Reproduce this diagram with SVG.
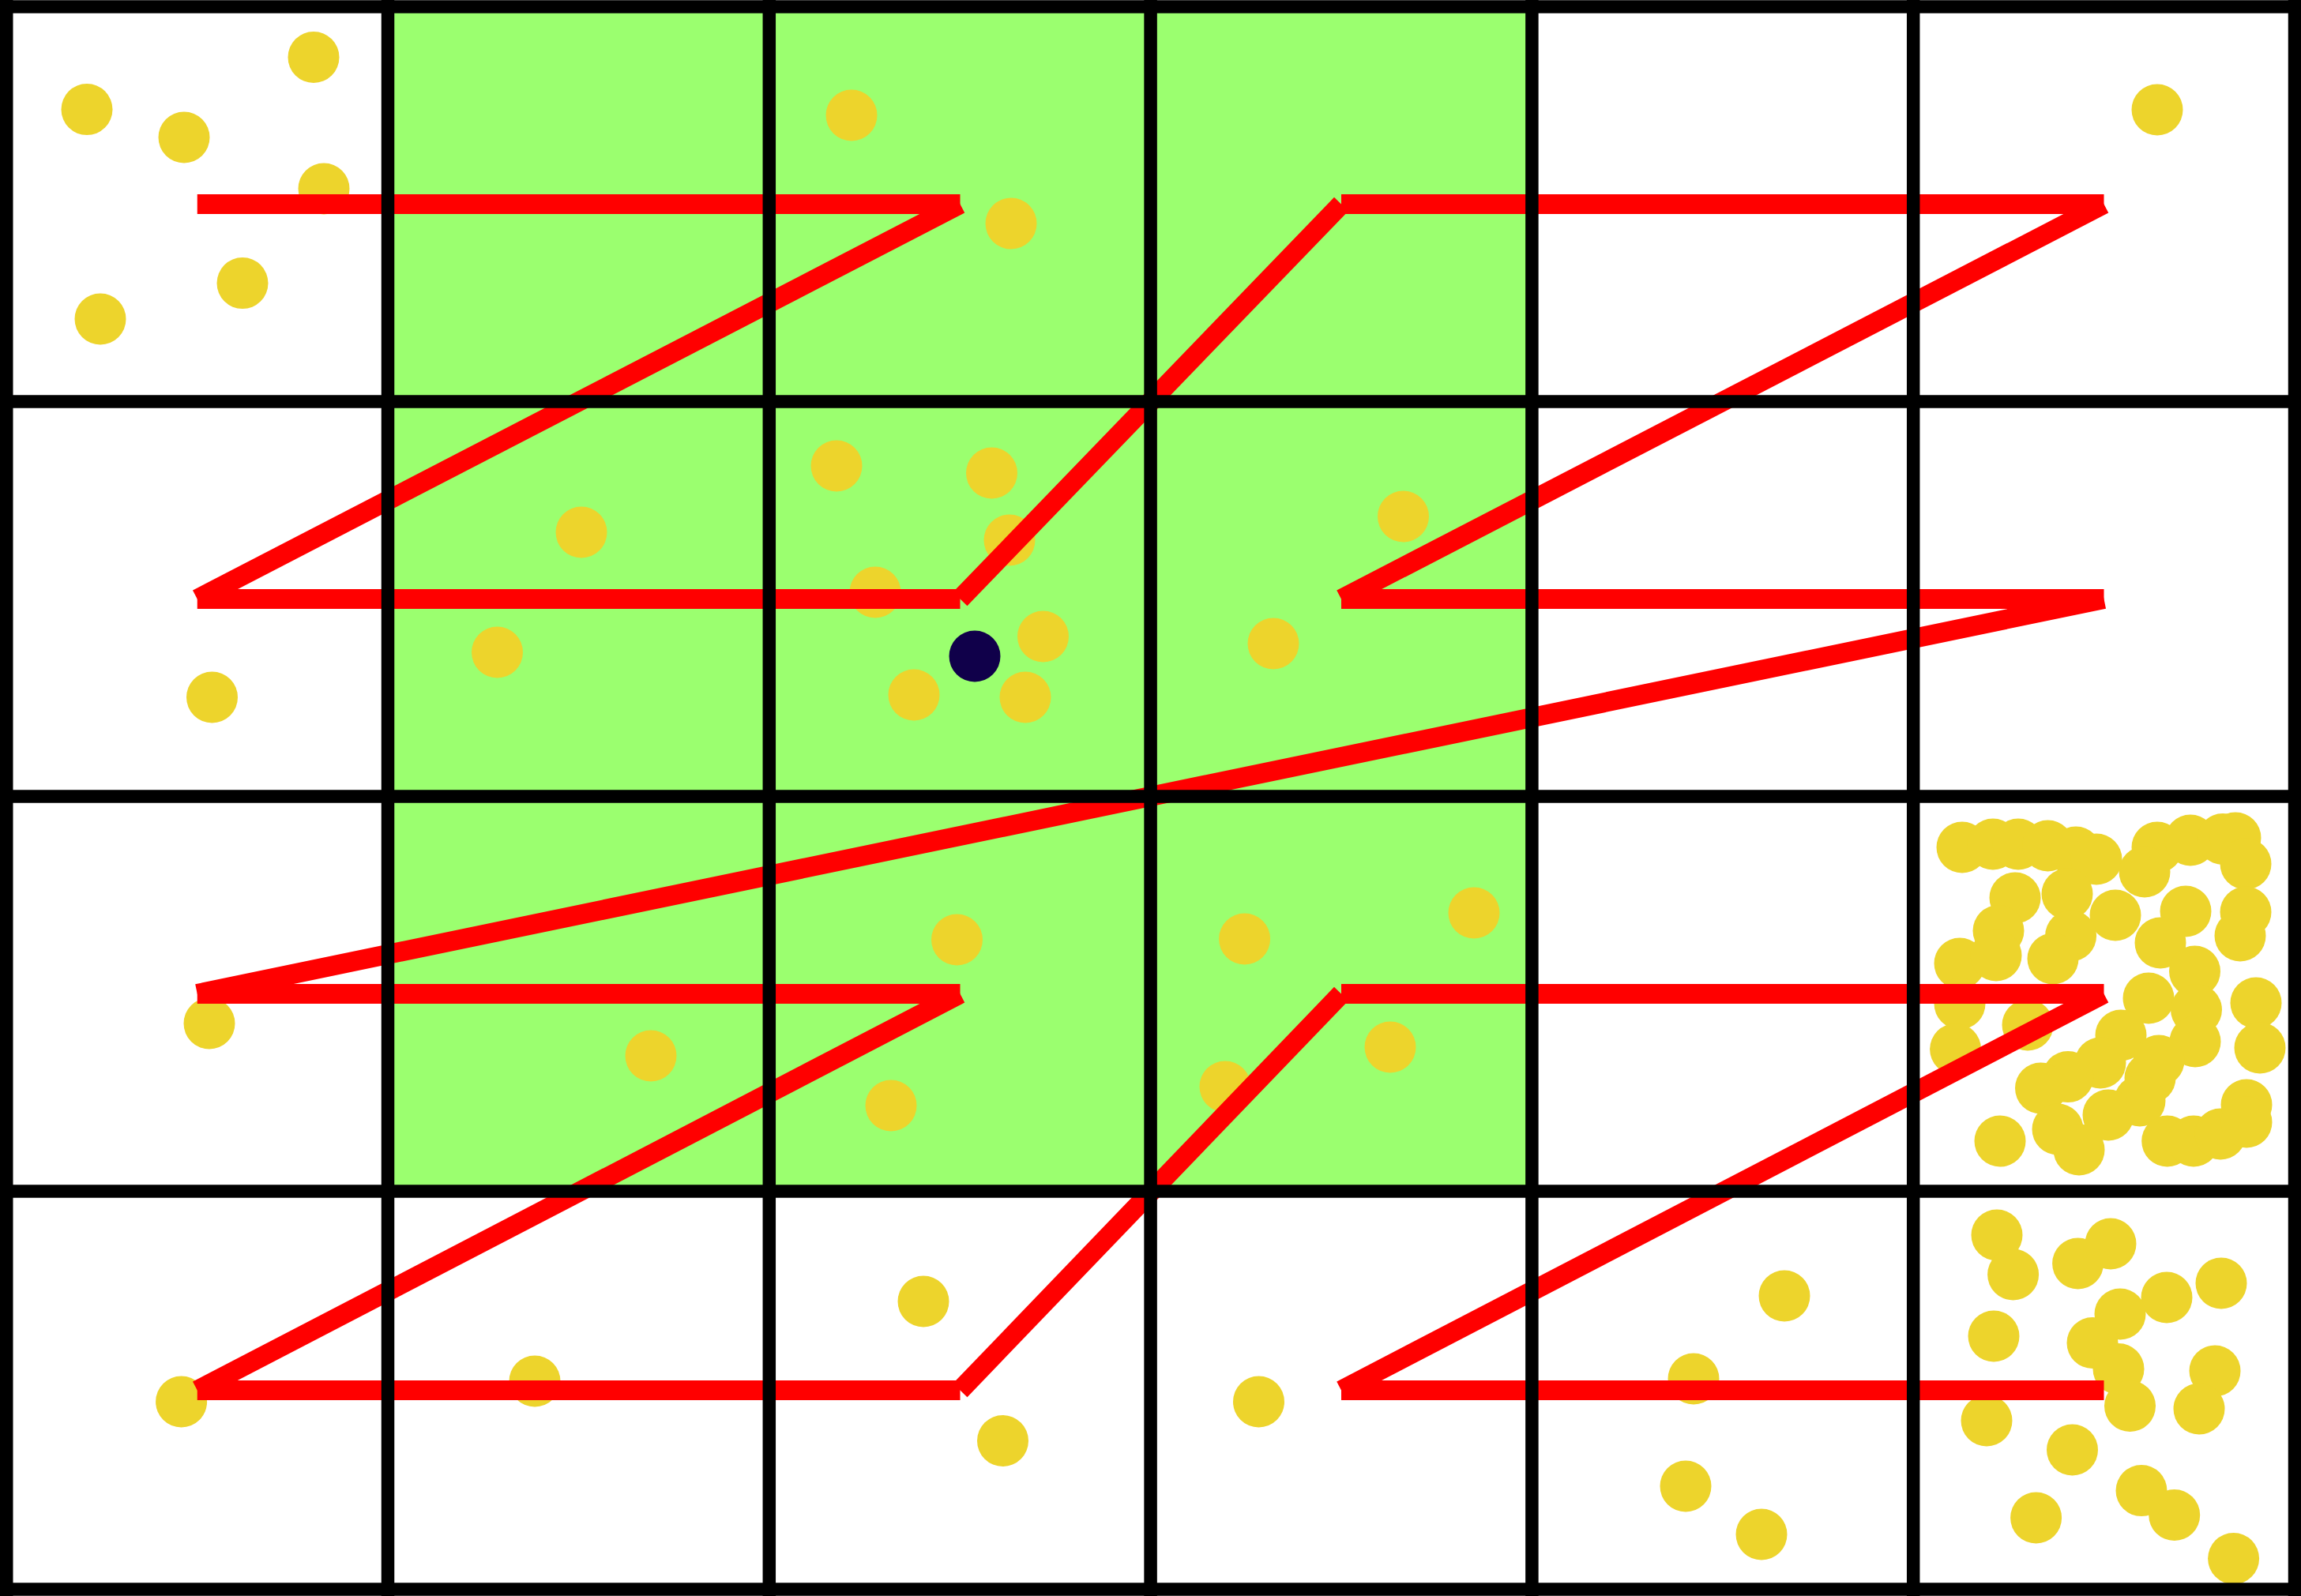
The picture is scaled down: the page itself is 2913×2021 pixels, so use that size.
<svg xmlns="http://www.w3.org/2000/svg" width="2913" height="2021" viewBox="0 0 2913 2021">
<style>
.grid{stroke:#000;stroke-width:16.5;fill:none}
.z{stroke:#ff0000;stroke-width:25;stroke-linecap:butt}
.pt{fill:#edd42c}
.q{fill:#10004a}
</style>
<rect width="2913" height="2021" fill="#fff"/>
<g id="region">
<rect x="491" y="8.5" width="1448.4" height="1500" fill="#9bff6f"/>
</g>
<g id="points">
<circle class="pt" cx="397" cy="72.5" r="32.5"/>
<circle class="pt" cx="110" cy="138.6" r="32.5"/>
<circle class="pt" cx="233" cy="174" r="32.5"/>
<circle class="pt" cx="410" cy="239" r="32.5"/>
<circle class="pt" cx="307" cy="358.6" r="32.5"/>
<circle class="pt" cx="127" cy="404" r="32.5"/>
<circle class="pt" cx="1078" cy="146" r="32.5"/>
<circle class="pt" cx="1280" cy="283" r="32.5"/>
<circle class="pt" cx="2731" cy="139" r="32.5"/>
<circle class="pt" cx="736" cy="674" r="32.5"/>
<circle class="pt" cx="629.5" cy="826" r="32.5"/>
<circle class="pt" cx="268.5" cy="883" r="32.5"/>
<circle class="pt" cx="1059" cy="590" r="32.5"/>
<circle class="pt" cx="1255.5" cy="599" r="32.5"/>
<circle class="pt" cx="1278" cy="684" r="32.5"/>
<circle class="pt" cx="1108" cy="750" r="32.5"/>
<circle class="pt" cx="1320.5" cy="806" r="32.5"/>
<circle class="pt" cx="1157" cy="880" r="32.5"/>
<circle class="pt" cx="1298" cy="883" r="32.5"/>
<circle class="pt" cx="1776.5" cy="654" r="32.5"/>
<circle class="pt" cx="1612" cy="815" r="32.5"/>
<circle class="pt" cx="265" cy="1296" r="32.5"/>
<circle class="pt" cx="824" cy="1337" r="32.5"/>
<circle class="pt" cx="1211.5" cy="1190" r="32.5"/>
<circle class="pt" cx="1128" cy="1400" r="32.5"/>
<circle class="pt" cx="1575.6" cy="1189" r="32.5"/>
<circle class="pt" cx="1866" cy="1156" r="32.5"/>
<circle class="pt" cx="1760" cy="1326" r="32.5"/>
<circle class="pt" cx="1551" cy="1376" r="32.5"/>
<circle class="pt" cx="229.6" cy="1775" r="32.5"/>
<circle class="pt" cx="677" cy="1749" r="32.5"/>
<circle class="pt" cx="1169" cy="1648" r="32.5"/>
<circle class="pt" cx="1269.5" cy="1824.5" r="32.5"/>
<circle class="pt" cx="1593.5" cy="1775" r="32.5"/>
<circle class="pt" cx="2259" cy="1641" r="32.5"/>
<circle class="pt" cx="2144" cy="1746" r="32.5"/>
<circle class="pt" cx="2134" cy="1882" r="32.5"/>
<circle class="pt" cx="2230" cy="1943" r="32.5"/>
<circle class="pt" cx="2528" cy="1564" r="32.5"/>
<circle class="pt" cx="2548.6" cy="1614" r="32.5"/>
<circle class="pt" cx="2630.6" cy="1600" r="32.5"/>
<circle class="pt" cx="2672" cy="1575" r="32.5"/>
<circle class="pt" cx="2743" cy="1643" r="32.5"/>
<circle class="pt" cx="2812" cy="1625" r="32.5"/>
<circle class="pt" cx="2684" cy="1664" r="32.5"/>
<circle class="pt" cx="2524" cy="1692" r="32.5"/>
<circle class="pt" cx="2649" cy="1700.5" r="32.5"/>
<circle class="pt" cx="2682" cy="1733.5" r="32.5"/>
<circle class="pt" cx="2804" cy="1736" r="32.5"/>
<circle class="pt" cx="2696.5" cy="1780.5" r="32.5"/>
<circle class="pt" cx="2784" cy="1784" r="32.5"/>
<circle class="pt" cx="2515" cy="1799" r="32.5"/>
<circle class="pt" cx="2623.5" cy="1836" r="32.5"/>
<circle class="pt" cx="2711" cy="1887.6" r="32.5"/>
<circle class="pt" cx="2752.7" cy="1918.5" r="32.5"/>
<circle class="pt" cx="2577.6" cy="1922" r="32.5"/>
<circle class="pt" cx="2827.6" cy="1973.6" r="32.5"/>
<circle class="pt" cx="2484" cy="1073" r="32.5"/>
<circle class="pt" cx="2523" cy="1069" r="32.5"/>
<circle class="pt" cx="2555" cy="1069" r="32.5"/>
<circle class="pt" cx="2592.5" cy="1071" r="32.5"/>
<circle class="pt" cx="2628" cy="1079" r="32.5"/>
<circle class="pt" cx="2654" cy="1088" r="32.5"/>
<circle class="pt" cx="2731" cy="1073" r="32.5"/>
<circle class="pt" cx="2773" cy="1064" r="32.5"/>
<circle class="pt" cx="2814" cy="1062.5" r="32.5"/>
<circle class="pt" cx="2830" cy="1061" r="32.5"/>
<circle class="pt" cx="2843" cy="1094" r="32.5"/>
<circle class="pt" cx="2715" cy="1104" r="32.5"/>
<circle class="pt" cx="2551" cy="1137" r="32.5"/>
<circle class="pt" cx="2617" cy="1132" r="32.5"/>
<circle class="pt" cx="2678" cy="1159" r="32.5"/>
<circle class="pt" cx="2767" cy="1154" r="32.5"/>
<circle class="pt" cx="2843" cy="1155" r="32.5"/>
<circle class="pt" cx="2836" cy="1185" r="32.5"/>
<circle class="pt" cx="2530" cy="1178.6" r="32.5"/>
<circle class="pt" cx="2621.6" cy="1185" r="32.5"/>
<circle class="pt" cx="2481" cy="1220" r="32.5"/>
<circle class="pt" cx="2527" cy="1210" r="32.5"/>
<circle class="pt" cx="2599" cy="1214" r="32.5"/>
<circle class="pt" cx="2735" cy="1194" r="32.5"/>
<circle class="pt" cx="2778.5" cy="1230" r="32.5"/>
<circle class="pt" cx="2720" cy="1264" r="32.5"/>
<circle class="pt" cx="2856" cy="1270" r="32.5"/>
<circle class="pt" cx="2481" cy="1271" r="32.5"/>
<circle class="pt" cx="2567" cy="1298" r="32.5"/>
<circle class="pt" cx="2780.5" cy="1278.6" r="32.5"/>
<circle class="pt" cx="2685" cy="1311" r="32.5"/>
<circle class="pt" cx="2475.6" cy="1328.6" r="32.5"/>
<circle class="pt" cx="2861" cy="1327" r="32.5"/>
<circle class="pt" cx="2779" cy="1319" r="32.5"/>
<circle class="pt" cx="2659" cy="1346" r="32.5"/>
<circle class="pt" cx="2618" cy="1363.6" r="32.5"/>
<circle class="pt" cx="2583.5" cy="1378" r="32.5"/>
<circle class="pt" cx="2722" cy="1365" r="32.5"/>
<circle class="pt" cx="2733" cy="1343" r="32.5"/>
<circle class="pt" cx="2709" cy="1394" r="32.5"/>
<circle class="pt" cx="2669" cy="1412" r="32.5"/>
<circle class="pt" cx="2605" cy="1430" r="32.5"/>
<circle class="pt" cx="2632" cy="1456" r="32.5"/>
<circle class="pt" cx="2532" cy="1445" r="32.5"/>
<circle class="pt" cx="2743.7" cy="1445" r="32.5"/>
<circle class="pt" cx="2777" cy="1445" r="32.5"/>
<circle class="pt" cx="2811" cy="1436" r="32.5"/>
<circle class="pt" cx="2844" cy="1399" r="32.5"/>
<circle class="pt" cx="2844" cy="1421" r="32.5"/>
</g>
<g id="query">
<circle class="q" cx="1234" cy="831" r="32.5"/>
</g>
<g id="connectors">
<line class="z" x1="249.75" y1="258.5" x2="1215.5" y2="258.5"/>
<line class="z" x1="1215.5" y1="258.5" x2="249.75" y2="758.5"/>
<line class="z" x1="249.75" y1="758.5" x2="1215.5" y2="758.5"/>
<line class="z" x1="1215.5" y1="758.5" x2="1698" y2="258.5"/>
<line class="z" x1="1698" y1="258.5" x2="2663.5" y2="258.5"/>
<line class="z" x1="2663.5" y1="258.5" x2="1698" y2="758.5"/>
<line class="z" x1="1698" y1="758.5" x2="2663.5" y2="758.5"/>
<line class="z" x1="2663.5" y1="758.5" x2="249.75" y2="1258.5"/>
<line class="z" x1="249.75" y1="1258.5" x2="1215.5" y2="1258.5"/>
<line class="z" x1="1215.5" y1="1258.5" x2="249.75" y2="1760.5"/>
<line class="z" x1="249.75" y1="1760.5" x2="1215.5" y2="1760.5"/>
<line class="z" x1="1215.5" y1="1760.5" x2="1698" y2="1258.5"/>
<line class="z" x1="1698" y1="1258.5" x2="2663.5" y2="1258.5"/>
<line class="z" x1="2663.5" y1="1258.5" x2="1698" y2="1760.5"/>
<line class="z" x1="1698" y1="1760.5" x2="2663.5" y2="1760.5"/>
</g>
<g id="grid" class="grid">
<line x1="8.25" y1="0" x2="8.25" y2="2021"/>
<line x1="491" y1="0" x2="491" y2="2021"/>
<line x1="973.8" y1="0" x2="973.8" y2="2021"/>
<line x1="1456.6" y1="0" x2="1456.6" y2="2021"/>
<line x1="1939.4" y1="0" x2="1939.4" y2="2021"/>
<line x1="2422.2" y1="0" x2="2422.2" y2="2021"/>
<line x1="2905" y1="0" x2="2905" y2="2021"/>
<line x1="0" y1="8.5" x2="2913" y2="8.5"/>
<line x1="0" y1="508.5" x2="2913" y2="508.5"/>
<line x1="0" y1="1008.5" x2="2913" y2="1008.5"/>
<line x1="0" y1="1508.5" x2="2913" y2="1508.5"/>
<line x1="0" y1="2012.5" x2="2913" y2="2012.5"/>
</g>
</svg>
